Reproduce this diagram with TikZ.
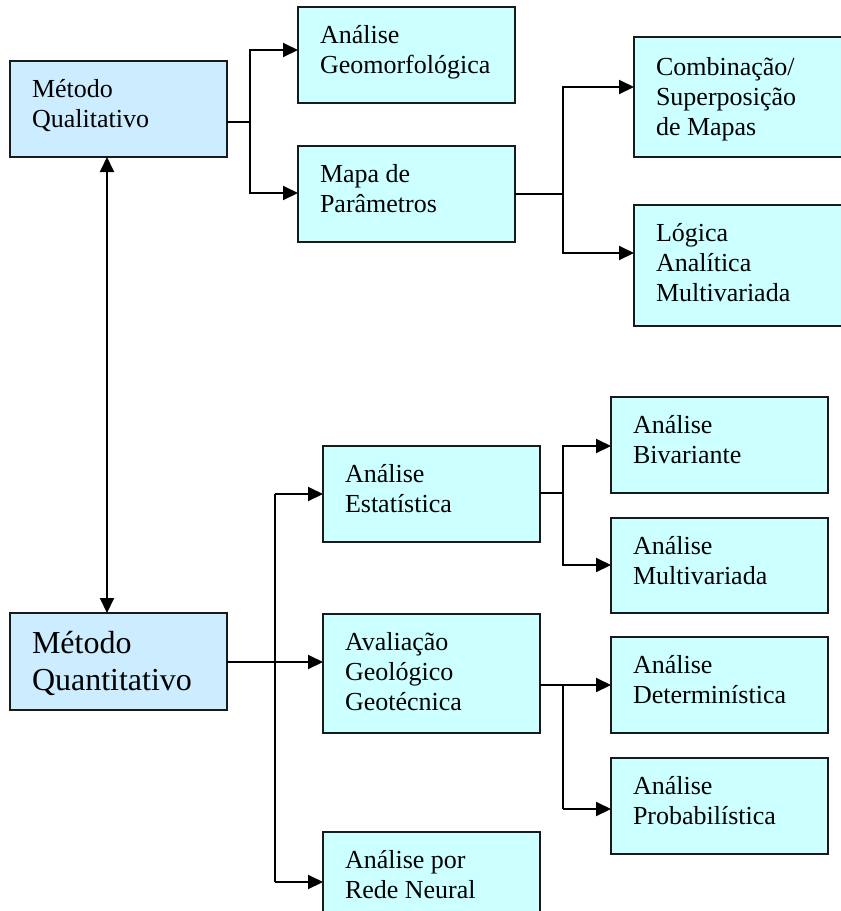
\documentclass[tikz,border=0pt]{standalone}
\usepackage{fontspec}
\setmainfont{Liberation Serif}
\usetikzlibrary{arrows.meta}
\definecolor{qblue}{RGB}{204,236,255}
\definecolor{qcyan}{RGB}{204,255,255}
\definecolor{bord}{RGB}{26,26,26}
\newcommand{\bt}[3][36pt]{\hspace*{22pt}\parbox[c][#2][t]{195pt}{\raggedright\rule{0pt}{#1}#3}}
\begin{document}
\begin{tikzpicture}[x=1pt,y=-1pt,
  box/.style={draw=bord,line width=2pt,rectangle,inner sep=0pt,outer sep=0pt,anchor=north west,
    minimum width=217pt,font=\fontsize{26}{30}\selectfont},
  bluebox/.style={box,fill=qblue},
  cyanbox/.style={box,fill=qcyan},
  ln/.style={line width=2pt,black},
  arr/.style={ln,-{Triangle[length=15pt,width=14pt]}},
  arrb/.style={ln,{Triangle[length=15pt,width=14pt]}-{Triangle[length=15pt,width=14pt]}}]
\useasboundingbox (0,0) rectangle (841,911);
% boxes
\node[bluebox,minimum height=96pt] (mql) at (10,61) {\bt{96pt}{Método\\Qualitativo}};
\node[cyanbox,minimum height=96pt] (ag) at (298,7) {\bt{96pt}{Análise\\Geomorfológica}};
\node[cyanbox,minimum height=96pt] (mp) at (298,146) {\bt{96pt}{Mapa de\\Parâmetros}};
\node[cyanbox,minimum height=120pt] (cs) at (634,37) {\bt[38pt]{120pt}{Combinação/\\Superposição\\de Mapas}};
\node[cyanbox,minimum height=121pt] (lam) at (634,205) {\bt{121pt}{Lógica\\Analítica\\Multivariada}};
\node[bluebox,minimum height=97pt,font=\fontsize{32}{37}\selectfont] (mqn) at (10,613) {\bt[40pt]{97pt}{Método\\Quantitativo}};
\node[cyanbox,minimum height=96pt] (ae) at (323,446) {\bt{96pt}{Análise\\Estatística}};
\node[cyanbox,minimum height=119pt] (agg) at (323,614) {\bt{119pt}{Avaliação\\Geológico\\Geotécnica}};
\node[cyanbox,minimum height=96pt] (arn) at (323,832) {\bt{96pt}{Análise por\\Rede Neural}};
\node[cyanbox,minimum height=96pt] (ab) at (611,397) {\bt{96pt}{Análise\\Bivariante}};
\node[cyanbox,minimum height=95pt] (am) at (611,518) {\bt{95pt}{Análise\\Multivariada}};
\node[cyanbox,minimum height=96pt] (ad) at (611,637) {\bt{96pt}{Análise\\Determinística}};
\node[cyanbox,minimum height=96pt] (apb) at (611,758) {\bt{96pt}{Análise\\Probabilística}};
% junctions
\coordinate (j1) at (250,122);
\coordinate (j2) at (563,194);
\coordinate (j3t) at (275,494);
\coordinate (j3b) at (275,882);
\coordinate (j4) at (563,493);
\coordinate (j5) at (563,685);
\coordinate (j5b) at (563,809);
% connectors
\draw[ln] (mql.east |- j1) -- (j1);
\draw[arr] (j1) |- (ag.west |- 0,50);
\draw[arr] (j1) |- (mp.west |- 0,193);
\draw[ln] (mp.east |- j2) -- (j2);
\draw[arr] (j2) |- (cs.west |- 0,87);
\draw[arr] (j2) |- (lam.west |- 0,253);
\draw[arrb] (mql.south -| 107,0) -- (mqn.north -| 107,0);
\draw[arr] (mqn.east |- 0,662) -- (agg.west |- 0,662);
\draw[ln] (j3t) -- (j3b);
\draw[arr] (j3t) -- (ae.west |- j3t);
\draw[arr] (j3b) -- (arn.west |- j3b);
\draw[ln] (ae.east |- j4) -- (j4);
\draw[arr] (j4) |- (ab.west |- 0,446);
\draw[arr] (j4) |- (am.west |- 0,565);
\draw[arr] (agg.east |- j5) -- (ad.west |- j5);
\draw[ln] (j5) -- (j5b);
\draw[arr] (j5b) -- (apb.west |- j5b);
\end{tikzpicture}
\end{document}
